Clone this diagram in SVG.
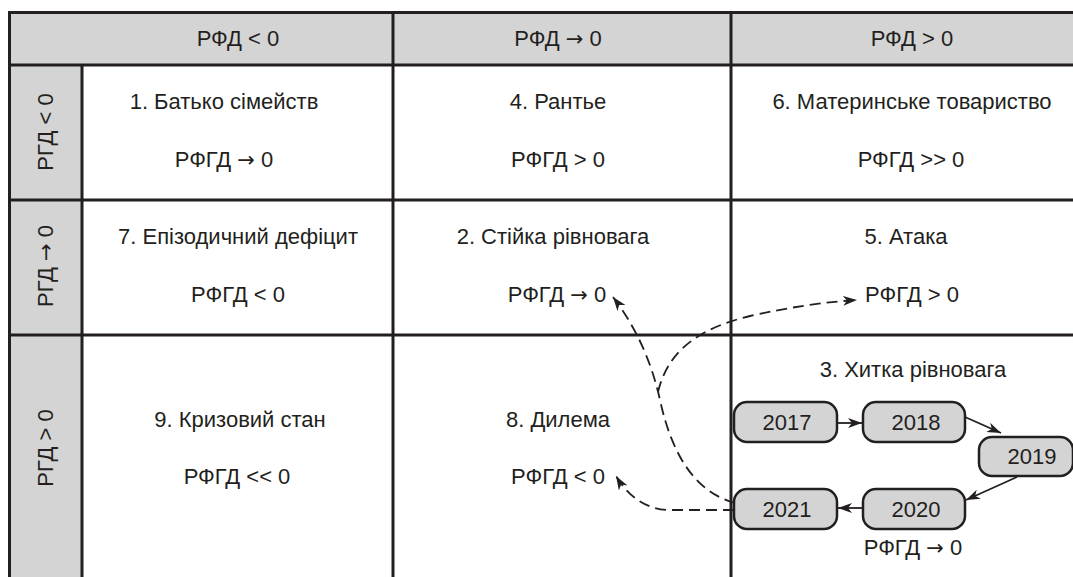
<svg xmlns="http://www.w3.org/2000/svg" width="1073" height="577" viewBox="0 0 1073 577">
<style>
text{font-family:"Liberation Sans",Arial,sans-serif;font-size:22px;fill:#231f20;text-anchor:middle}
.ar{font-family:"DejaVu Sans",sans-serif;font-size:21px}
.grid{stroke:#231f20;stroke-width:3;fill:none}
.gray{fill:#d4d4d4}
.box{fill:#d4d4d4;stroke:#231f20;stroke-width:2.5}
.solid{stroke:#231f20;stroke-width:1.8;fill:none;marker-end:url(#ah)}
.dash{stroke:#231f20;stroke-width:1.8;fill:none;stroke-dasharray:11 6;marker-end:url(#ah)}
</style>
<defs>
<marker id="ah" markerUnits="userSpaceOnUse" markerWidth="16" markerHeight="12" refX="14" refY="5" orient="auto">
<path d="M0,0 L14,5 L0,10 L4,5 z" fill="#231f20" stroke="none"/>
</marker>
</defs>
<rect width="1073" height="577" fill="#fff"/>
<g id="table">
<rect class="gray" x="9" y="12" width="1064" height="53"/>
<rect class="gray" x="9" y="65" width="73" height="512"/>
<path class="grid" d="M9.5,577 V12.5 H1073 M9.5,65 H1073 M82,65 V577 M393,12.5 V577 M731,12.5 V577 M9.5,200 H1073 M9.5,335 H1073"/>
</g>
<g id="headers">
<text x="238" y="46">РФД &lt; 0</text>
<text x="558" y="46">РФД <tspan class="ar">→</tspan> 0</text>
<text x="912" y="46">РФД &gt; 0</text>
<text transform="translate(53,132) rotate(-90)">РГД &lt; 0</text>
<text transform="translate(53,266) rotate(-90)">РГД <tspan class="ar">→</tspan> 0</text>
<text transform="translate(53,448) rotate(-90)">РГД &gt; 0</text>
</g>
<g id="cell1"><text x="224" y="109">1. Батько сімейств</text><text x="224" y="167">РФГД <tspan class="ar">→</tspan> 0</text></g>
<g id="cell4"><text x="558" y="109">4. Рантье</text><text x="558" y="167">РФГД &gt; 0</text></g>
<g id="cell6"><text x="912" y="109">6. Материнське товариство</text><text x="911" y="167">РФГД &gt;&gt; 0</text></g>
<g id="cell7"><text x="238" y="244">7. Епізодичний дефіцит</text><text x="238" y="302">РФГД &lt; 0</text></g>
<g id="cell2"><text x="553" y="244">2. Стійка рівновага</text><text x="557" y="302">РФГД <tspan class="ar">→</tspan> 0</text></g>
<g id="cell5"><text x="906" y="244">5. Атака</text><text x="912" y="302">РФГД &gt; 0</text></g>
<g id="cell9"><text x="240" y="427">9. Кризовий стан</text><text x="237" y="484">РФГД &lt;&lt; 0</text></g>
<g id="cell8"><text x="558" y="427">8. Дилема</text><text x="558" y="484">РФГД &lt; 0</text></g>
<g id="cell3"><text x="913" y="377">3. Хитка рівновага</text><text x="913" y="555">РФГД <tspan class="ar">→</tspan> 0</text></g>
<g id="y2017"><rect class="box" x="734" y="402" width="103" height="40" rx="13"/><text x="787" y="430">2017</text></g>
<g id="y2018"><rect class="box" x="863" y="402" width="102" height="40" rx="13"/><text x="916" y="430">2018</text></g>
<g id="y2019"><rect class="box" x="979" y="437" width="94" height="39" rx="13"/><text x="1032" y="464">2019</text></g>
<g id="y2020"><rect class="box" x="863" y="489" width="102" height="40" rx="13"/><text x="916" y="517">2020</text></g>
<g id="y2021"><rect class="box" x="734" y="489" width="103" height="40" rx="13"/><text x="787" y="517">2021</text></g>
<g id="connectors">
<path class="solid" d="M837,423 L862,423"/>
<path class="solid" d="M965,417 L1001,433"/>
<path class="solid" d="M1017,477 L966,500"/>
<path class="solid" d="M863,508 L838,508"/>
<path class="dash" d="M735,503 C695,492 672,455 660,400 C650,355 632,322 613,297"/>
<path class="dash" d="M658,392 C668,350 700,328 750,316 C790,307 825,302 857,300"/>
<path class="dash" d="M734,510 L668,510 C645,509 628,496 616,476"/>
</g>
</svg>
